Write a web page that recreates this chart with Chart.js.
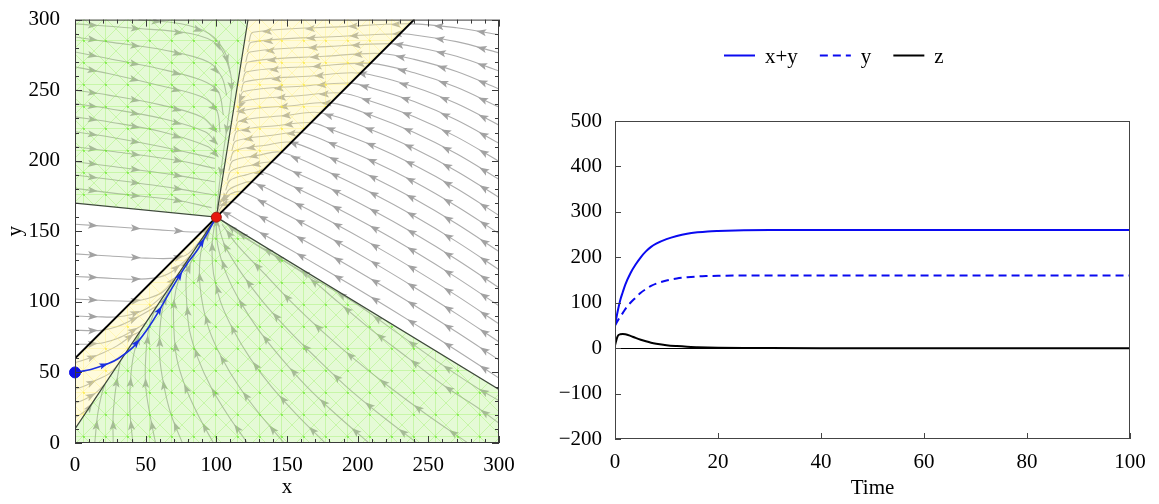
<!DOCTYPE html>
<html>
<head>
<meta charset="utf-8">
<title>Phase plane and time series</title>
<style>
    body { margin: 0; background: #fff; }
    #wrap { position: relative; width: 1159px; height: 504px; }
    #phase { position: absolute; left: 0; top: 0; }
    #series { position: absolute; left: 540px; top: 0; }
</style>
<script src="https://cdn.jsdelivr.net/npm/chart.js@4"></script>
</head>
<body>
<div id="wrap">
    <canvas id="phase" width="540" height="504"></canvas>
    <canvas id="series" width="619" height="504"></canvas>
</div>

<script>
    // ---------- phase plane (x, y) ----------
    const phaseTicks = [0, 50, 100, 150, 200, 250, 300];

    // regions
    const greenUpper = [[0, 300], [0, 170], [100, 160], [122.4, 300]];
    const greenLower = [[0, 0], [0, 10], [100, 160], [300, 38], [300, 0]];
    const yellowUpper = [[100, 160], [122.4, 300], [240, 300]];
    const yellowLower = [[0, 10], [0, 60], [100, 160]];

    // boundary lines
    const separatrix = [[0, 60], [240, 300]];
    const greenEdgeUpper = [[0, 170], [100, 160], [122.4, 300]];
    const greenEdgeLower = [[0, 10], [100, 160], [300, 38]];

    const equilibrium = [100, 160];
    const startPoint = [0, 50];
    const trajectory = [[0, 50], [11.8, 52.3], [23.6, 56.3], [30.7, 59.9], [41.3, 68.1], [50.7, 79.9],
        [59, 92.9], [68.4, 109.4], [80.2, 128.3], [87.3, 137.7], [96.7, 154.2], [100, 160]];

    // stream lines, each listed in the direction of flow
    const upperLeftFlow = [
        [[45, 300], [75, 297], [95, 290], [106, 277], [110, 262]],
        [[0, 297], [40, 294], [82.5, 290], [101.4, 281.8], [109.7, 263], [110.8, 251], [108.5, 230], [105, 206], [102, 182], [100.5, 166]],
        [[0, 287.7], [23.6, 284.2], [63.7, 278.3], [94.3, 270], [103.8, 259.4], [107.3, 246.5]],
        [[0, 277.1], [23.6, 272.4], [59, 265.3], [89.6, 257], [101.4, 248.8], [105, 232.3]],
        [[0, 266.5], [23.6, 261.8], [59, 253.5], [89.6, 245.3], [100.2, 235.8], [102.6, 220.5]],
        [[0, 250], [23.6, 246.5], [61.3, 239.4], [89.6, 231], [100.2, 220.5]],
        [[0, 240.5], [23.6, 237], [61.3, 230], [92, 220.5], [100.5, 212]],
        [[0, 231.1], [23.6, 227.6], [61.3, 220.5], [94.3, 209.9], [100.2, 204]],
        [[0, 220.5], [23.6, 217], [61.3, 209.9], [99, 201.6]],
        [[0, 209.9], [28.3, 206.4], [70.8, 200.5], [99, 194.6]],
        [[0, 199.3], [28.3, 195.7], [70.8, 189.8], [99, 185.1]],
        [[0, 189.9], [28.3, 186.3], [70.8, 180.4], [99, 175.7]],
        [[0, 180.4], [28.3, 176.9], [70.8, 172.2], [96.7, 166.7]]
    ];
    const leftFlow = [
        [[0, 155], [30, 153], [60, 151], [88, 149.5], [94, 152], [99, 158]],
        [[0, 134], [25, 132.5], [50, 131], [71, 131], [80, 134], [90, 145]],
        [[0, 118], [20, 117], [40, 116], [57, 117], [68, 121], [82, 133]],
        [[0, 102], [20, 101], [41, 100.5], [50, 102], [62, 107], [74, 121]],
        [[0, 90], [15, 89.5], [29, 89.3], [40, 91], [52, 96], [64, 106]],
        [[0, 80], [12, 79.6], [20, 80], [30, 82.5], [42, 88], [58, 97]],
        [[0, 70], [10, 70], [20, 71], [30, 74], [40, 79], [50, 85]]
    ];
    const lowerYellowFlow = [
        [[0, 18], [5, 21], [10, 25], [15, 32.5]],
        [[0, 28], [7, 31], [14, 35], [21, 41.5]],
        [[0, 38], [8, 41], [16, 45], [24, 49], [30, 55]],
        [[0, 57], [10, 60], [20, 64], [30, 69], [40, 76], [46, 79]]
    ];
    const lowerGreenFlow = [
        [[14, 0], [16, 20], [19, 35], [21, 41]],
        [[27, 0], [27, 20], [29, 40], [32, 58]],
        [[41, 0], [39, 20], [39, 40], [41, 60], [46, 79]],
        [[57, 0], [53, 20], [50, 40], [50, 60], [52, 80], [57, 96]],
        [[76, 0], [68, 20], [63, 40], [60, 60], [60, 80], [63, 100], [68, 112]],
        [[98, 0], [87, 20], [78, 40], [72, 60], [70, 80], [70, 100], [74, 118], [80, 130]],
        [[122, 0], [108, 20], [96, 40], [87, 60], [81, 80], [79, 100], [79, 120], [84, 132], [90, 144], [96, 153]],
        [[148, 0], [131, 20], [116, 40], [104, 60], [95, 80], [90, 100], [88, 120], [90, 140], [96, 153], [99, 158]],
        [[177, 0], [157, 20], [139, 40], [124, 60], [112, 80], [103, 100], [98, 120], [97, 140], [99, 157]],
        [[208, 0], [185, 20], [164, 40], [146, 60], [130, 80], [117, 100], [107, 120], [101, 140], [100, 157]],
        [[242, 0], [216, 20], [192, 40], [171, 60], [151, 80], [133, 100], [118, 120], [106, 140], [101, 156]],
        [[278, 0], [249, 20], [222, 40], [197, 60], [174, 80], [153, 100], [134, 120], [115, 140], [104, 155]],
        [[300, 14], [285, 25], [262, 40], [236, 60], [210, 80], [186, 100], [162, 120], [129, 140], [112, 152], [102, 159]],
        [[300, 30], [283, 40], [256, 58], [228, 78], [200, 98], [168, 117], [140, 134], [116, 148], [104, 158]]
    ];
    const rightFlow = [
        [[300, 46], [270, 65.6], [240, 84.6], [210, 103.1], [180, 121], [150, 138.4], [120, 155.3], [104, 164], [101, 161]],
        [[300, 58.8], [270, 78.6], [240, 97.6], [210, 115.9], [180, 133.4], [150, 150.2], [120, 166.4], [111, 171], [105, 169], [101, 163]],
        [[300, 71.6], [270, 91.5], [240, 110.4], [210, 128.5], [180, 145.6], [150, 161.7], [118, 178], [110, 176.5], [104, 172], [101, 165]],
        [[300, 84.4], [270, 104.4], [240, 123.2], [210, 140.9], [180, 157.5], [150, 173], [125, 185], [116, 183], [108.5, 179], [105.5, 172]],
        [[300, 97.2], [270, 117.2], [240, 135.9], [210, 153.2], [180, 169.2], [150, 183.9], [132, 192], [121, 190], [109.6, 186], [106.6, 179]],
        [[300, 110], [270, 130], [240, 148.4], [210, 165.2], [180, 180.6], [150, 194.3], [139, 199], [125.7, 197], [110.7, 193], [107.7, 186]],
        [[300, 122.8], [270, 142.7], [240, 160.8], [210, 177.1], [180, 191.7], [146, 206], [130.3, 204], [111.8, 200], [108.8, 193]],
        [[300, 135.6], [270, 155.3], [240, 173], [210, 188.7], [180, 202.4], [153, 213], [135, 211], [112.9, 207], [109.9, 200]],
        [[300, 148.4], [270, 167.8], [240, 185.1], [210, 200], [180, 212.8], [160, 220], [139.6, 218], [113.9, 214], [110.9, 207]],
        [[300, 161.2], [270, 180.3], [240, 196.9], [210, 211.1], [180, 222.7], [167, 227], [144, 225], [115, 221], [112, 214]],
        [[300, 174], [270, 192.6], [240, 208.6], [210, 221.8], [174, 234], [149, 232], [116.1, 228], [113.1, 221]],
        [[300, 186.8], [270, 204.9], [240, 220], [210, 232.1], [181, 241], [153.5, 239], [117.2, 235], [114.2, 228]],
        [[300, 199.6], [270, 216.9], [240, 231.1], [210, 242], [188, 248], [158.3, 246], [118.3, 242], [115.3, 235]],
        [[300, 212.4], [270, 228.8], [240, 241.9], [210, 251.5], [195, 255], [162.8, 253], [119.4, 249], [116.4, 242]],
        [[300, 225.2], [270, 240.5], [240, 252.3], [202, 262], [167.4, 260], [120.5, 256], [117.5, 249]],
        [[300, 238], [270, 252], [240, 262.3], [209, 269], [172, 267], [121.6, 263], [118.6, 256]],
        [[300, 250.8], [270, 263.2], [240, 271.8], [216, 276], [176.7, 274], [122.7, 270], [119.7, 263]],
        [[300, 263.6], [270, 274], [240, 280.8], [223, 283], [181.2, 281], [123.8, 277], [120.8, 270]],
        [[300, 276.4], [270, 284.4], [240, 289.1], [230, 290], [185.9, 288], [124.9, 284], [121.9, 277]],
        [[300, 289.2], [270, 294.2], [237, 297], [190.6, 295], [126, 291], [123, 284]]
    ];

    // ---------- time series ----------
    const time = [0, 0.5, 1, 1.5, 2, 3, 4, 5, 6, 7, 8, 10, 12, 14, 16, 18, 20, 25, 30, 40, 60, 80, 100];
    const xPlusY = [50, 80, 105, 123, 140, 165, 184, 200, 213, 223, 230, 240, 247, 252, 255, 257, 258, 259.5, 260, 260, 260, 260, 260];
    const yOnly = [50, 60, 69, 77, 86, 100, 111, 122, 130, 137, 142, 149, 153.5, 156, 157.8, 158.7, 159.3, 159.8, 160, 160, 160, 160, 160];
    const zOnly = [6, 26, 30.5, 31, 30.5, 27, 22.5, 18.5, 15, 12, 9.8, 6.5, 4.5, 3, 2, 1.2, 0.8, 0.3, 0.1, 0, 0, 0, 0];
    const timeTicks = [0, 20, 40, 60, 80, 100];
    const valueTicks = [-200, -100, 0, 100, 200, 300, 400, 500];

    Chart.defaults.font.family = '"Liberation Serif", serif';
    Chart.defaults.font.size = 21;
    Chart.defaults.color = '#000';

    const toXY = pts => pts.map(([x, y]) => ({ x: x, y: y }));
    const fmt = v => String(v).replace('-', '\u2212');

    // triangulated mesh fill used by the shaded regions
    function meshPattern(ctx, fill, line, dot) {
        const c = document.createElement('canvas');
        c.width = 22; c.height = 22;
        const g = c.getContext('2d');
        g.fillStyle = fill;
        g.fillRect(0, 0, 22, 22);
        g.strokeStyle = line;
        g.lineWidth = 1;
        g.beginPath();
        g.moveTo(0.5, 0); g.lineTo(0.5, 22);
        g.moveTo(0, 0.5); g.lineTo(22, 0.5);
        g.moveTo(0, 0); g.lineTo(22, 22);
        g.moveTo(22, 0); g.lineTo(0, 22);
        g.stroke();
        g.fillStyle = dot;
        g.fillRect(0, 0, 2, 2);
        const p = ctx.createPattern(c, 'repeat');
        p.setTransform(new DOMMatrix().translate(17, 18));
        return p;
    }

    function drawArrow(ctx, x, y, ux, uy, size) {
        const h = size / 2, w = size * 0.36;
        ctx.beginPath();
        ctx.moveTo(x + ux * h, y + uy * h);
        ctx.lineTo(x - ux * h - uy * w, y - uy * h + ux * w);
        ctx.lineTo(x - ux * h * 0.55, y - uy * h * 0.55);
        ctx.lineTo(x - ux * h + uy * w, y - uy * h - ux * w);
        ctx.closePath();
        ctx.fill();
    }

    // arrowheads spaced along each stream line, in pixel space
    const arrowHeads = {
        id: 'arrowHeads',
        afterDatasetDraw(chart, args) {
            const ds = chart.data.datasets[args.index];
            if (!ds.arrowSize) return;
            const pts = args.meta.data;
            const ctx = chart.ctx;
            const a = chart.chartArea;
            ctx.save();
            ctx.beginPath();
            ctx.rect(a.left, a.top, a.right - a.left, a.bottom - a.top);
            ctx.clip();
            ctx.fillStyle = ds.arrowColor;
            let next = ds.arrowStart;
            let walked = 0;
            for (let i = 1; i < pts.length; i++) {
                const ax = pts[i - 1].x, ay = pts[i - 1].y, bx = pts[i].x, by = pts[i].y;
                const len = Math.hypot(bx - ax, by - ay);
                if (len < 0.01) continue;
                while (next <= walked + len) {
                    const t = (next - walked) / len;
                    drawArrow(ctx, ax + (bx - ax) * t, ay + (by - ay) * t, (bx - ax) / len, (by - ay) / len, ds.arrowSize);
                    next += ds.arrowGap;
                }
                walked += len;
            }
            ctx.restore();
        }
    };

    // frame with inward major and minor ticks on all four sides
    const phaseFrame = {
        id: 'phaseFrame',
        afterDatasetsDraw(chart) {
            const { ctx, chartArea: a, scales: { x, y } } = chart;
            ctx.save();
            ctx.strokeStyle = '#3a3a3a';
            ctx.lineWidth = 1;
            ctx.strokeRect(a.left + 0.5, a.top + 0.5, a.right - a.left - 1, a.bottom - a.top - 1);
            ctx.beginPath();
            for (let v = 0; v <= 300; v += 10) {
                const len = v % 50 === 0 ? 7 : 4;
                const px = Math.round(x.getPixelForValue(v)) + 0.5;
                const py = Math.round(y.getPixelForValue(v)) + 0.5;
                ctx.moveTo(px, a.bottom); ctx.lineTo(px, a.bottom - len);
                ctx.moveTo(px, a.top); ctx.lineTo(px, a.top + len);
                ctx.moveTo(a.left, py); ctx.lineTo(a.left + len, py);
                ctx.moveTo(a.right, py); ctx.lineTo(a.right - len, py);
            }
            ctx.stroke();
            ctx.restore();
        }
    };

    const phaseCtx = document.getElementById('phase').getContext('2d');
    const greenMesh = meshPattern(phaseCtx, 'rgba(175,240,130,0.33)', 'rgba(130,235,60,0.3)', 'rgba(90,230,30,0.5)');
    const yellowMesh = meshPattern(phaseCtx, 'rgba(255,242,150,0.33)', 'rgba(255,236,90,0.3)', 'rgba(250,230,40,0.5)');

    const streamStyle = {
        showLine: true, pointRadius: 0, borderColor: '#adadad', borderWidth: 1.1, tension: 0.35, order: 5,
        arrowSize: 10, arrowGap: 43, arrowStart: 18, arrowColor: '#a2a2a2'
    };
    const regionStyle = { showLine: true, pointRadius: 0, borderColor: 'rgba(0,0,0,0)', borderWidth: 1, fill: 'shape', order: 4 };

    const phaseSets = [];
    [upperLeftFlow, leftFlow, lowerYellowFlow, lowerGreenFlow, rightFlow].forEach(group => {
        group.forEach(line => phaseSets.push(Object.assign({ data: toXY(line) }, streamStyle)));
    });
    phaseSets.push(Object.assign({ data: toXY(greenUpper), backgroundColor: greenMesh }, regionStyle));
    phaseSets.push(Object.assign({ data: toXY(greenLower), backgroundColor: greenMesh }, regionStyle));
    phaseSets.push(Object.assign({ data: toXY(yellowUpper), backgroundColor: yellowMesh }, regionStyle));
    phaseSets.push(Object.assign({ data: toXY(yellowLower), backgroundColor: yellowMesh }, regionStyle));
    [greenEdgeUpper, greenEdgeLower].forEach(edge => {
        phaseSets.push({ data: toXY(edge), showLine: true, pointRadius: 0, borderColor: '#3f4a3c', borderWidth: 1.2, order: 3 });
    });
    phaseSets.push({ data: toXY(separatrix), showLine: true, pointRadius: 0, borderColor: '#000', borderWidth: 2, order: 3 });
    phaseSets.push({
        data: toXY(trajectory), showLine: true, pointRadius: 0, borderColor: '#1a2fe0', borderWidth: 1.6, tension: 0.3, order: 2,
        arrowSize: 9, arrowGap: 40, arrowStart: 30, arrowColor: '#1a2fe0'
    });
    phaseSets.push({ data: [{ x: startPoint[0], y: startPoint[1] }], pointRadius: 5.5, pointBackgroundColor: '#1212e6', pointBorderColor: '#1212e6', order: 1, clip: false });
    phaseSets.push({ data: [{ x: equilibrium[0], y: equilibrium[1] }], pointRadius: 5, pointBackgroundColor: '#e8170f', pointBorderColor: '#9a1a10', pointBorderWidth: 1, order: 0, clip: false });

    new Chart(phaseCtx, {
        type: 'scatter',
        data: { datasets: phaseSets },
        options: {
            responsive: false,
            animation: false,
            layout: { padding: { top: 19, right: 41, left: 0, bottom: 0 } },
            plugins: { legend: { display: false }, tooltip: { enabled: false } },
            scales: {
                x: {
                    type: 'linear', min: 0, max: 300,
                    afterFit: s => { s.height = 61; },
                    afterBuildTicks: s => { s.ticks = phaseTicks.map(v => ({ value: v })); },
                    grid: { display: false }, border: { display: false },
                    ticks: { padding: 2, maxRotation: 0, autoSkip: false, callback: fmt },
                    title: { display: true, text: 'x', padding: { top: 0, bottom: 4 } }
                },
                y: {
                    type: 'linear', min: 0, max: 300,
                    afterFit: s => { s.width = 75; },
                    afterBuildTicks: s => { s.ticks = phaseTicks.map(v => ({ value: v })); },
                    grid: { display: false }, border: { display: false },
                    ticks: { padding: 7, autoSkip: false, callback: fmt },
                    title: { display: true, text: 'y', padding: { top: 3, bottom: 0 } }
                }
            }
        },
        plugins: [arrowHeads, phaseFrame]
    });

    // ---------- time series chart ----------
    const seriesLegend = {
        id: 'seriesLegend',
        afterDraw(chart) {
            const ctx = chart.ctx;
            ctx.save();
            ctx.font = '21px "Liberation Serif"';
            ctx.textBaseline = 'alphabetic';
            ctx.fillStyle = '#000';
            let x = 184;
            chart.data.datasets.forEach(ds => {
                ctx.strokeStyle = ds.borderColor;
                ctx.lineWidth = 2;
                ctx.setLineDash(ds.borderDash || []);
                ctx.beginPath();
                ctx.moveTo(x, 55.5);
                ctx.lineTo(x + 31, 55.5);
                ctx.stroke();
                ctx.setLineDash([]);
                ctx.fillText(ds.label, x + 41, 63);
                x += 41 + ctx.measureText(ds.label).width + 22;
            });
            ctx.restore();
        }
    };

    const seriesFrame = {
        id: 'seriesFrame',
        beforeDatasetsDraw(chart) {
            const { ctx, chartArea: a, scales: { y } } = chart;
            const y0 = Math.round(y.getPixelForValue(0)) + 0.5;
            ctx.save();
            ctx.strokeStyle = '#000';
            ctx.lineWidth = 1;
            ctx.beginPath();
            ctx.moveTo(a.left, y0);
            ctx.lineTo(a.right, y0);
            ctx.stroke();
            ctx.restore();
        },
        afterDraw(chart) {
            const { ctx, chartArea: a, scales: { x, y } } = chart;
            ctx.save();
            ctx.strokeStyle = '#444';
            ctx.lineWidth = 1;
            ctx.strokeRect(a.left + 0.5, a.top + 0.5, a.right - a.left - 1, a.bottom - a.top - 1);
            ctx.beginPath();
            timeTicks.forEach(v => {
                const px = Math.round(x.getPixelForValue(v)) + 0.5;
                ctx.moveTo(px, a.bottom); ctx.lineTo(px, a.bottom - 6);
            });
            valueTicks.forEach(v => {
                const py = Math.round(y.getPixelForValue(v)) + 0.5;
                ctx.moveTo(a.left, py); ctx.lineTo(a.left + 6, py);
            });
            ctx.stroke();
            ctx.restore();
        }
    };

    const pair = vals => time.map((t, i) => ({ x: t, y: vals[i] }));

    new Chart(document.getElementById('series'), {
        type: 'scatter',
        data: {
            datasets: [
                { label: 'x+y', data: pair(xPlusY), showLine: true, pointRadius: 0, borderColor: '#0a0af0', borderWidth: 2, cubicInterpolationMode: 'monotone' },
                { label: 'y', data: pair(yOnly), showLine: true, pointRadius: 0, borderColor: '#0a0af0', borderWidth: 2, borderDash: [8, 5], cubicInterpolationMode: 'monotone' },
                { label: 'z', data: pair(zOnly), showLine: true, pointRadius: 0, borderColor: '#000', borderWidth: 2, cubicInterpolationMode: 'monotone' }
            ]
        },
        options: {
            responsive: false,
            animation: false,
            layout: { padding: { top: 121, right: 29, left: 0, bottom: 0 } },
            plugins: { legend: { display: false }, tooltip: { enabled: false } },
            scales: {
                x: {
                    type: 'linear', min: 0, max: 100,
                    afterFit: s => { s.height = 65; },
                    afterBuildTicks: s => { s.ticks = timeTicks.map(v => ({ value: v })); },
                    grid: { display: false }, border: { display: false },
                    ticks: { padding: 3, maxRotation: 0, autoSkip: false, callback: fmt },
                    title: { display: true, text: 'Time', padding: { top: 0, bottom: 3 } }
                },
                y: {
                    type: 'linear', min: -200, max: 500,
                    afterFit: s => { s.width = 75; },
                    afterBuildTicks: s => { s.ticks = valueTicks.map(v => ({ value: v })); },
                    grid: { display: false }, border: { display: false },
                    ticks: { padding: 5, autoSkip: false, callback: fmt }
                }
            }
        },
        plugins: [seriesLegend, seriesFrame]
    });
</script>
</body>
</html>
